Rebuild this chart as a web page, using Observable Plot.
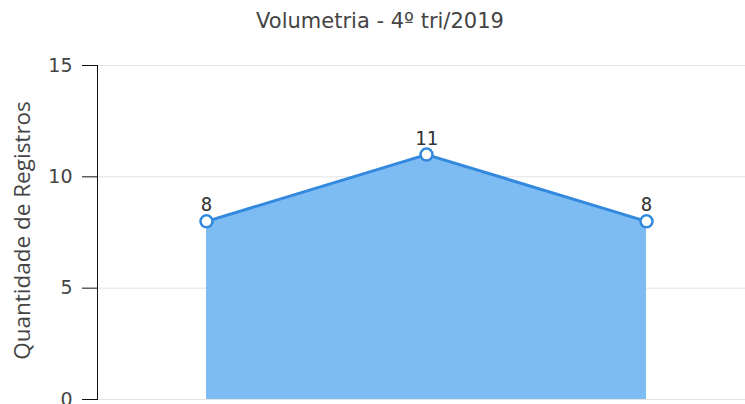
<!DOCTYPE html>
<html><head><meta charset="utf-8">
<script src="https://cdn.jsdelivr.net/npm/d3@7"></script>
<script src="https://cdn.jsdelivr.net/npm/@observablehq/plot@0.6"></script>
<style>
body{margin:0;background:#fff;width:745px;height:404px;overflow:hidden;font-family:"DejaVu Sans",Verdana,sans-serif}
#title{height:40px;line-height:42px;font-size:21px;color:#444;text-align:center;padding-left:15px;box-sizing:border-box;white-space:nowrap}
</style></head><body>
<div id="title">Volumetria - 4º tri/2019</div>
<div id="chart"></div>
<script>
const categories = ["Out/2019", "Nov/2019", "Dez/2019"];
const values = [8, 11, 8];
const yTicks = [0, 5, 10, 15];
const yLabel = "Quantidade de Registros";
const data = categories.map((c, i) => ({cat: c, value: values[i]}));
const blue = "#3389dd";
const chart = Plot.plot({
  width: 745, height: 364, marginLeft: 97, marginRight: 0, marginTop: 25, marginBottom: 5,
  style: {fontFamily: "DejaVu Sans", fontSize: "19px", color: "#444", background: "#fff", overflow: "visible"},
  x: {type: "point", domain: categories, range: [206, 646], padding: 0, axis: null},
  y: {domain: [0, 15], axis: null},
  marks: [
    Plot.gridY(yTicks, {stroke: "#e2e2e2", strokeOpacity: 1}),
    Plot.areaY(data, {x: "cat", y: "value", fill: "#7dbcf3"}),
    Plot.lineY(data, {x: "cat", y: "value", stroke: blue, strokeWidth: 3}),
    Plot.dot(data, {x: "cat", y: "value", r: 6, fill: "white", stroke: blue, strokeWidth: 2.5}),
    Plot.text(data, {x: "cat", y: "value", text: d => String(d.value), dy: -16, fontFamily: "DejaVu Sans Mono", fontSize: 19, fill: "#333"}),
    Plot.axisY(yTicks, {tickSize: 15, tickPadding: 10, fontSize: 19, label: null, stroke: "#111", fill: "#444"}),
    Plot.frame({anchor: "left", stroke: "#111", strokeOpacity: 1}),
    Plot.text([yLabel], {frameAnchor: "left", rotate: -90, dx: -75, dy: -2, fontFamily: "Open Sans", fontSize: 22.5, fill: "#444", textAnchor: "middle"})
  ]
});
document.getElementById("chart").appendChild(chart);
</script>
</body></html>
